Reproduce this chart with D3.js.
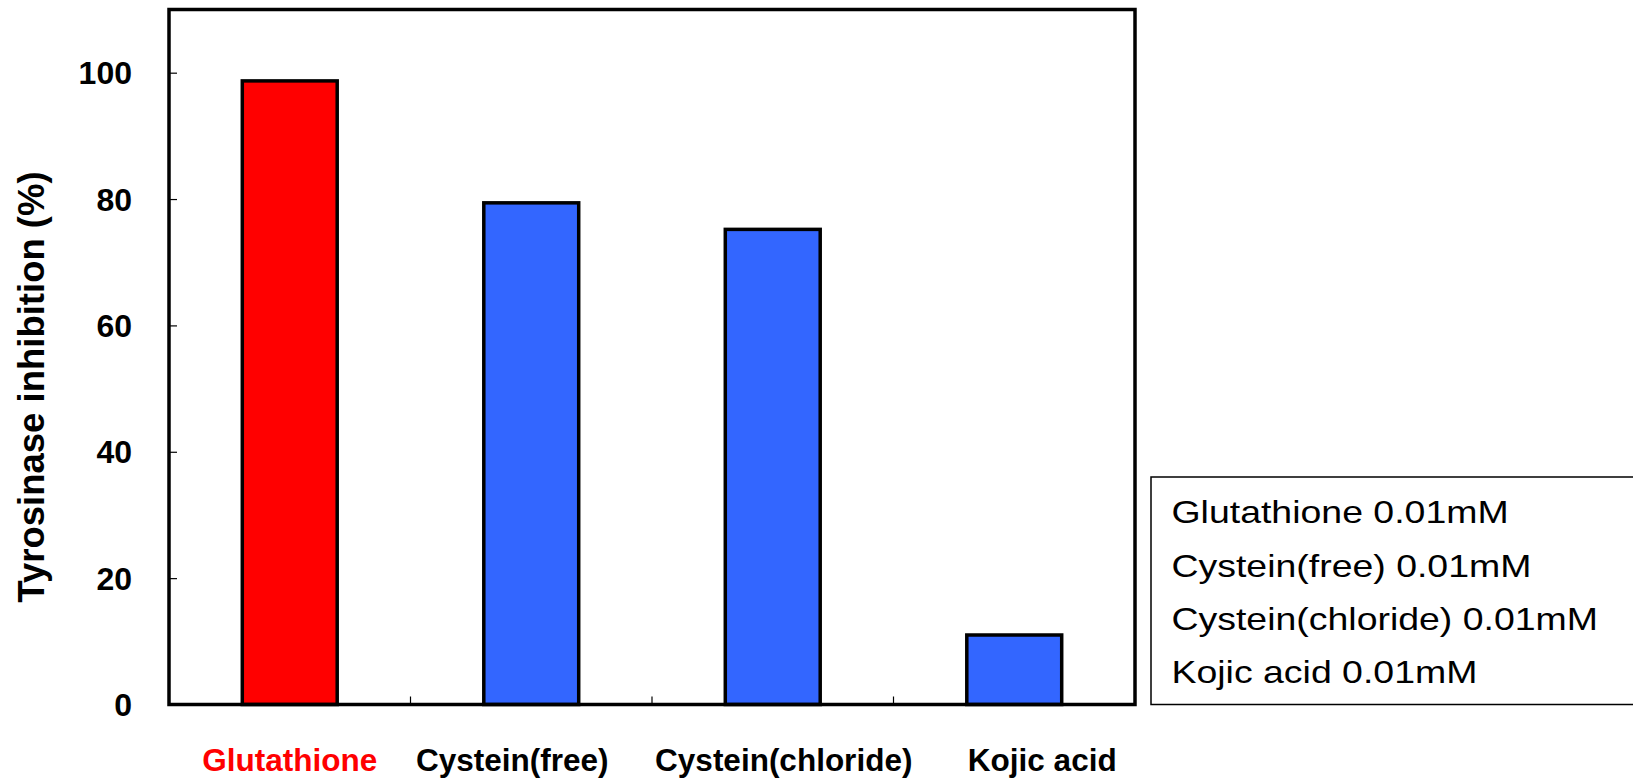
<!DOCTYPE html>
<html>
<head>
<meta charset="utf-8">
<script src="https://cdn.jsdelivr.net/npm/d3@7"></script>
<style>
  html, body { margin: 0; padding: 0; background: #fff; }
  svg { display: block; }
</style>
</head>
<body>
<svg id="chart" width="1633" height="780"></svg>
<script>
// ---- data ----
const categories = ["Glutathione", "Cystein(free)", "Cystein(chloride)", "Kojic acid"];
const values = [98.7, 79.4, 75.2, 11.0];
const barColors = ["#ff0000", "#3366ff", "#3366ff", "#3366ff"];
const labelColors = ["#ff0000", "#000000", "#000000", "#000000"];
const yTicks = [0, 20, 40, 60, 80, 100];
const legendLines = ["Glutathione 0.01mM", "Cystein(free) 0.01mM", "Cystein(chloride) 0.01mM", "Kojic acid 0.01mM"];
const yTitle = "Tyrosinase inhibition (%)";

// ---- layout ----
const svg = d3.select("#chart");
const plot = { left: 169, right: 1135, top: 9.5, bottom: 704.5 };
const labelShift = [0, -19, 11, 28]; // hand-placed category labels in the original

const x = d3.scaleBand().domain(categories)
  .range([plot.left, plot.right]).paddingInner(0.607).paddingOuter(0.3035);
const y = d3.scaleLinear().domain([0, 110]).range([plot.bottom, plot.top]);

// bars
svg.append("g").selectAll("rect").data(categories).join("rect")
  .attr("x", d => x(d))
  .attr("width", x.bandwidth())
  .attr("y", (d, i) => y(values[i]))
  .attr("height", (d, i) => y(0) - y(values[i]))
  .attr("fill", (d, i) => barColors[i])
  .attr("stroke", "#000").attr("stroke-width", 3.5);

// y axis ticks (inside) + labels
const yAxis = d3.axisRight(y).tickValues(yTicks).tickSize(8).tickFormat("");
const gy = svg.append("g").attr("transform", `translate(${plot.left},0)`).call(yAxis);
gy.select(".domain").remove();
gy.selectAll(".tick line").attr("stroke", "#000").attr("stroke-width", 1.2);

svg.append("g").selectAll("text").data(yTicks).join("text")
  .attr("x", 132).attr("y", d => y(d))
  .attr("dy", "0.36em")
  .attr("text-anchor", "end")
  .attr("font-family", "Liberation Sans, Arial, sans-serif")
  .attr("font-weight", "bold").attr("font-size", 32)
  .attr("fill", "#000")
  .text(d => d);

// x category boundary ticks (inside)
const step = x.step();
const bounds = d3.range(1, categories.length).map(i => plot.left + i * step);
svg.append("g").selectAll("line").data(bounds).join("line")
  .attr("x1", d => d).attr("x2", d => d)
  .attr("y1", plot.bottom).attr("y2", plot.bottom - 8)
  .attr("stroke", "#000").attr("stroke-width", 1.2);

// frame
svg.append("rect")
  .attr("x", plot.left).attr("y", plot.top)
  .attr("width", plot.right - plot.left).attr("height", plot.bottom - plot.top)
  .attr("fill", "none").attr("stroke", "#000").attr("stroke-width", 3.5);

// x labels
svg.append("g").selectAll("text").data(categories).join("text")
  .attr("x", (d, i) => x(d) + x.bandwidth() / 2 + labelShift[i])
  .attr("y", 771)
  .attr("text-anchor", "middle")
  .attr("font-family", "Liberation Sans, Arial, sans-serif")
  .attr("font-weight", "bold").attr("font-size", 31.5)
  .attr("fill", (d, i) => labelColors[i])
  .text(d => d);

// y title
svg.append("text")
  .attr("transform", `translate(44,387) rotate(-90)`)
  .attr("text-anchor", "middle")
  .attr("font-family", "Liberation Sans, Arial, sans-serif")
  .attr("font-weight", "bold").attr("font-size", 36.5)
  .attr("fill", "#000")
  .text(yTitle);

// legend box
svg.append("rect")
  .attr("x", 1151).attr("y", 477)
  .attr("width", 520).attr("height", 227.5)
  .attr("fill", "#fff").attr("stroke", "#000").attr("stroke-width", 1.5);

const lg = svg.append("g").attr("transform", "translate(1171.5,0) scale(1.2,1)");
lg.selectAll("text").data(legendLines).join("text")
  .attr("x", 0)
  .attr("y", (d, i) => 523.3 + i * 53.3)
  .attr("font-family", "Liberation Sans, Arial, sans-serif")
  .attr("font-size", 31.2)
  .attr("fill", "#000")
  .text(d => d);
</script>
</body>
</html>
